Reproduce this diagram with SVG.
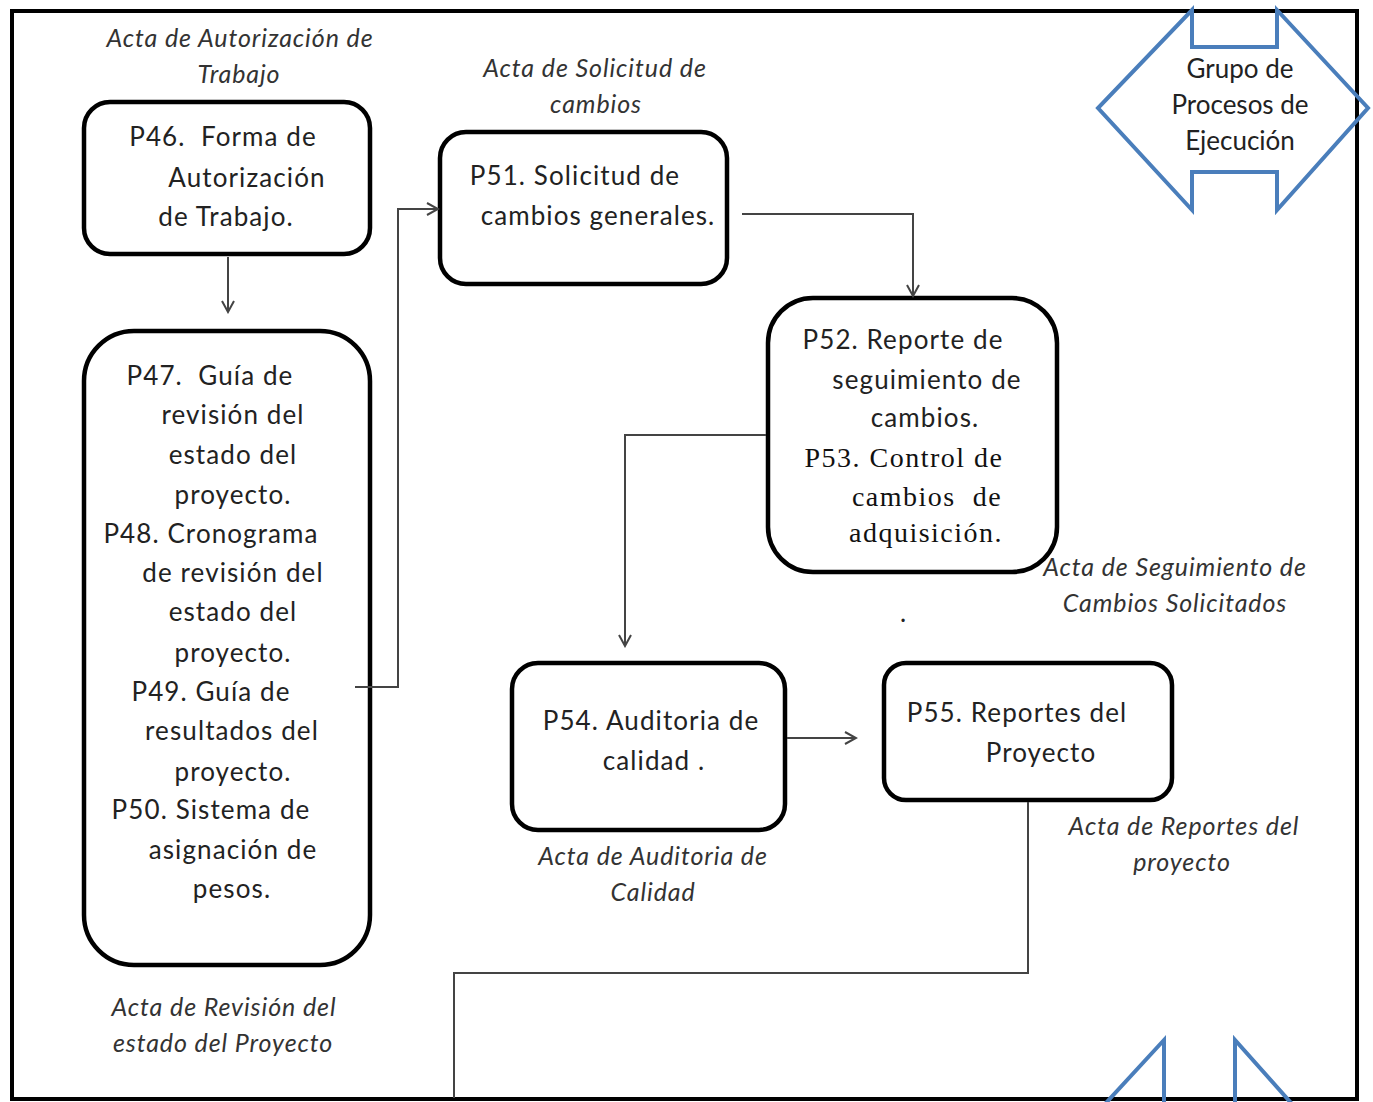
<svg xmlns="http://www.w3.org/2000/svg" width="1373" height="1102" viewBox="0 0 1373 1102">
<style>
.node{fill:#fff;stroke:#000;stroke-width:4.5}
.t{font-family:Lato,"Liberation Sans",sans-serif;font-size:26px;letter-spacing:1.1px;fill:#222;text-anchor:middle}
.g{font-family:Lato,"Liberation Sans",sans-serif;font-size:26px;fill:#222;text-anchor:middle}
.s{font-family:"Liberation Serif","DejaVu Serif",serif;font-size:28px;letter-spacing:1.5px;fill:#111;text-anchor:middle}
.i{font-family:Lato,"Liberation Sans",sans-serif;font-style:italic;font-size:25px;letter-spacing:0.9px;fill:#333;text-anchor:middle}
.c{fill:none;stroke:#444;stroke-width:2}
.blue{fill:none;stroke:#4a7ebb;stroke-width:4;stroke-linejoin:miter}
</style>
<defs>
<marker id="ah" markerWidth="14" markerHeight="14" refX="12" refY="7" orient="auto" markerUnits="userSpaceOnUse">
<path d="M1,1 L12,7 L1,13" fill="none" stroke="#444" stroke-width="2"/>
</marker>
</defs>
<rect width="1373" height="1102" fill="#fff"/>
<rect x="12" y="11" width="1345" height="1088" fill="none" stroke="#000" stroke-width="4"/>

<g id="grupo-arrow">
<polygon class="blue" points="1192,10 1192,47 1277,47 1277,10 1368,108 1277,210 1277,172 1192,172 1192,210 1098,108"/>
<text class="g" x="1240" y="78">Grupo de</text>
<text class="g" x="1240" y="114">Procesos de</text>
<text class="g" x="1240" y="150">Ejecución</text>
</g>
<g id="bottom-arrow">
<polyline class="blue" points="1105,1104 1164,1040 1164,1104"/>
<polyline class="blue" points="1235,1104 1235,1040 1292,1104"/>
</g>

<g id="P46">
<rect class="node" x="84" y="102" width="286" height="152" rx="26"/>
<text class="t" x="223" y="146" xml:space="preserve">P46.  Forma de</text>
<text class="t" x="247" y="187">Autorización</text>
<text class="t" x="226" y="226">de Trabajo.</text>
</g>
<g id="P47-P50">
<rect class="node" x="84" y="331" width="286" height="634" rx="50"/>
<text class="t" x="210" y="385" xml:space="preserve">P47.  Guía de</text>
<text class="t" x="233" y="424">revisión del</text>
<text class="t" x="233" y="464">estado del</text>
<text class="t" x="233" y="504">proyecto.</text>
<text class="t" x="211" y="543">P48. Cronograma</text>
<text class="t" x="233" y="582">de revisión del</text>
<text class="t" x="233" y="621">estado del</text>
<text class="t" x="233" y="662">proyecto.</text>
<text class="t" x="211" y="701">P49. Guía de</text>
<text class="t" x="232" y="740">resultados del</text>
<text class="t" x="233" y="781">proyecto.</text>
<text class="t" x="211" y="819">P50. Sistema de</text>
<text class="t" x="233" y="859">asignación de</text>
<text class="t" x="232" y="898">pesos.</text>
</g>
<g id="P51">
<rect class="node" x="440" y="132" width="287" height="152" rx="26"/>
<text class="t" x="575" y="185">P51. Solicitud de</text>
<text class="t" x="598" y="225">cambios generales.</text>
</g>
<g id="P52-P53">
<rect class="node" x="768" y="298" width="289" height="274" rx="45"/>
<text class="t" x="903" y="349">P52. Reporte de</text>
<text class="t" x="927" y="389">seguimiento de</text>
<text class="t" x="925" y="427">cambios.</text>
<text class="s" x="904" y="467">P53. Control de</text>
<text class="s" x="927" y="506" xml:space="preserve">cambios  de</text>
<text class="s" x="926" y="542">adquisición.</text>
</g>
<g id="P54">
<rect class="node" x="512" y="663" width="273" height="167" rx="26"/>
<text class="t" x="651" y="730">P54. Auditoria de</text>
<text class="t" x="654" y="770">calidad .</text>
</g>
<g id="P55">
<rect class="node" x="884" y="663" width="288" height="137" rx="22"/>
<text class="t" x="1017" y="722">P55. Reportes del</text>
<text class="t" x="1041" y="762">Proyecto</text>
</g>

<g id="connectors">
<line class="c" x1="228" y1="257" x2="228" y2="312" marker-end="url(#ah)"/>
<polyline class="c" points="355,687 398,687 398,209 438,209" marker-end="url(#ah)"/>
<polyline class="c" points="742,214 913,214 913,296" marker-end="url(#ah)"/>
<polyline class="c" points="766,435 625,435 625,646" marker-end="url(#ah)"/>
<line class="c" x1="787" y1="738" x2="856" y2="738" marker-end="url(#ah)"/>
<polyline class="c" points="1028,802 1028,973 454,973 454,1098"/>
</g>

<g id="labels">
<text class="i" x="240" y="47">Acta de Autorización de</text>
<text class="i" x="239" y="83">Trabajo</text>
<text class="i" x="595" y="77">Acta de Solicitud de</text>
<text class="i" x="596" y="113">cambios</text>
<text class="i" x="1175" y="576">Acta de Seguimiento de</text>
<text class="i" x="1175" y="612">Cambios Solicitados</text>
<text class="g" x="903" y="622">.</text>
<text class="i" x="653" y="865">Acta de Auditoria de</text>
<text class="i" x="653" y="901">Calidad</text>
<text class="i" x="1184" y="835">Acta de Reportes del</text>
<text class="i" x="1182" y="871">proyecto</text>
<text class="i" x="224" y="1016">Acta de Revisión del</text>
<text class="i" x="223" y="1052">estado del Proyecto</text>
</g>
</svg>
